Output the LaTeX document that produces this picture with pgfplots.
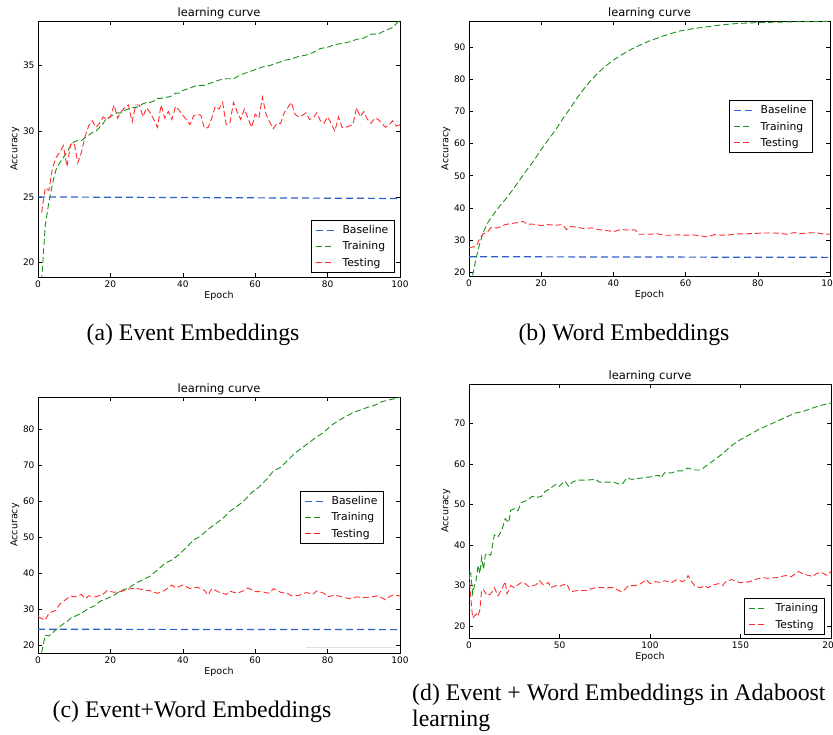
\documentclass[border=0pt]{standalone}
\usepackage{fontspec}
\setmainfont{DejaVu Sans}
\newfontfamily\capfont{Liberation Serif}
\usepackage{pgfplots}
\pgfplotsset{compat=1.18}
\definecolor{cb}{RGB}{45,95,200}
\definecolor{cg}{RGB}{25,145,25}
\definecolor{cr}{RGB}{255,45,45}
\pgfplotsset{
  lc/.style={
    scale only axis,
    anchor=south west,
    axis line style={line width=0.8pt},
    tick align=inside,
    major tick length=4pt,
    tick style={line width=0.6pt, black},
    xmin=0, xmax=100,
    xtick={0,20,...,100},
    title={learning curve},
    title style={font=\fontsize{11.5}{12}\selectfont, at={(axis description cs:0.5,1)}, anchor=base, yshift=-2pt, inner sep=0pt},
    xlabel=Epoch, ylabel=Accuracy,
    xlabel style={font=\fontsize{9.5}{10}\selectfont, at={(axis description cs:0.5,-0.074)}, anchor=center},
    ylabel style={font=\fontsize{9.5}{10}\selectfont, at={(axis description cs:-0.064,0.5)}, anchor=center},
    tick label style={font=\fontsize{9}{10}\selectfont},
    /pgf/number format/assume math mode=true,
    legend style={draw=black, line width=1.2pt, fill=white, font=\fontsize{10.8}{12}\selectfont, inner xsep=4pt, inner ysep=3pt, row sep=2.5pt, anchor=north east, legend cell align=left,
      /tikz/every odd column/.style={column sep=6pt}},
    legend image code/.code={\draw[#1] (3pt,0pt) -- (21pt,0pt);},
  },
  bl/.style={color=cb, line width=1.2pt, dash pattern=on 7pt off 4pt},
  tr/.style={color=cg, line width=0.9pt, dash pattern=on 6pt off 3pt},
  te/.style={color=cr, line width=0.9pt, dash pattern=on 6pt off 3pt},
}
\begin{document}
\begin{tikzpicture}[x=1pt,y=1pt]
\useasboundingbox (0,0) rectangle (833,735);
% (a)
\begin{axis}[lc, at={(38pt,458pt)}, width=362pt, height=256pt, ymin=18.9, ymax=38.4, ytick={20,25,30,35},
  legend style={at={(axis description cs:0.986,0.223)}}]
\addplot[bl] coordinates {(0,25.0)(100,24.88)};
\addplot[tr] coordinates {(1,18.6)(2,22.8)(3,24.6)(4,26.0)(5,27.1)(6,27.6)(7,28.0)(8,28.4)(9,28.9)(10,29.2)(11,29.3)(12,29.3)(13,29.5)(14,29.7)(15,29.9)(16,30.0)(17,30.3)(18,30.6)(19,31.0)(20,31.1)(21,31.3)(22,31.4)(23,31.4)(24,31.6)(25,31.7)(26,31.8)(27,31.8)(28,31.9)(29,32.1)(30,32.2)(31,32.2)(32,32.3)(33,32.5)(34,32.5)(35,32.6)(36,32.6)(37,32.7)(38,32.9)(39,32.9)(40,33.1)(42,33.3)(44,33.5)(46,33.5)(48,33.7)(50,33.9)(52,34.0)(54,34.0)(56,34.3)(58,34.5)(60,34.7)(62,34.9)(64,35.0)(66,35.2)(68,35.4)(70,35.5)(72,35.7)(74,35.8)(76,36.0)(78,36.3)(80,36.4)(82,36.6)(84,36.7)(86,36.8)(88,37.0)(90,37.1)(92,37.4)(94,37.4)(96,37.7)(98,37.9)(100,38.5)};
\addplot[te] coordinates {(1,23.8)(2,25.7)(3,25.5)(4,27.2)(5,28.0)(6,28.4)(7,28.9)(8,27.3)(9,29.0)(10,29.1)(11,27.6)(12,28.4)(13,29.6)(14,30.4)(15,30.8)(16,30.3)(17,30.6)(18,31.1)(19,30.9)(20,31.1)(21,32.0)(22,31.0)(23,31.5)(24,31.8)(25,32.0)(26,30.7)(27,32.0)(28,32.0)(29,31.1)(30,31.8)(31,31.4)(32,30.9)(33,30.3)(34,32.0)(35,31.0)(36,31.5)(37,30.9)(38,31.9)(39,31.6)(40,31.2)(41,30.9)(42,30.5)(43,31.2)(44,31.3)(45,31.2)(46,30.2)(47,30.3)(48,31.0)(49,31.9)(50,31.7)(51,32.2)(52,30.5)(53,30.6)(54,32.2)(55,31.5)(56,30.9)(57,31.7)(58,31.0)(59,30.3)(60,31.3)(61,31.0)(62,32.6)(63,31.3)(64,30.7)(65,30.2)(66,30.6)(67,30.6)(68,31.4)(69,31.8)(70,32.2)(71,31.3)(72,31.1)(73,31.2)(74,31.4)(75,30.9)(76,31.0)(77,31.4)(78,30.8)(79,30.6)(80,31.1)(81,30.6)(82,30.0)(83,31.1)(84,30.3)(85,30.3)(86,30.4)(87,30.5)(88,31.8)(89,31.1)(90,31.5)(91,30.9)(92,30.6)(93,31.0)(94,30.9)(95,30.6)(96,30.3)(97,30.5)(98,30.8)(99,30.4)(100,30.5)};
\legend{Baseline,Training,Testing}
\end{axis}
% (b)
\begin{axis}[lc, at={(469pt,459pt)}, width=361pt, height=255pt, ymin=18.8, ymax=98.2, ytick={20,30,...,90},
  legend style={at={(axis description cs:0.953,0.69)}}]
\addplot[bl] coordinates {(0,24.8)(100,24.6)};
\addplot[tr] coordinates {(1,19.0)(2,24.5)(3,29.0)(4,32.5)(5,35.0)(6,36.8)(7,38.3)(8,39.8)(9,41.3)(10,42.5)(12,45.5)(14,48.6)(16,51.8)(18,54.8)(20,58.2)(22,61.3)(24,64.3)(26,67.8)(28,71.0)(30,74.3)(32,77.3)(34,80.0)(36,82.3)(38,84.3)(40,86.0)(42,87.5)(44,88.8)(46,90.0)(48,91.0)(50,92.0)(52,92.8)(54,93.6)(56,94.3)(58,95.0)(60,95.4)(62,95.8)(64,96.1)(66,96.4)(68,96.7)(70,97.0)(72,97.2)(74,97.4)(76,97.5)(78,97.6)(80,97.7)(84,97.8)(88,97.9)(92,98.0)(96,98.0)(100,98.1)};
\addplot[te] coordinates {(0,27.6)(2,28.0)(3,30.5)(4,32.0)(5,32.3)(6,33.8)(8,33.8)(10,34.8)(12,35.2)(14,35.5)(15,35.8)(16,35.0)(18,34.9)(20,34.5)(22,34.8)(24,34.6)(26,34.8)(27,33.2)(28,34.2)(30,34.0)(32,33.5)(34,33.8)(36,33.2)(38,33.0)(40,32.6)(42,33.3)(44,33.1)(46,33.2)(47,31.8)(50,31.8)(52,32.0)(54,31.5)(56,31.5)(58,31.6)(60,31.5)(62,31.6)(64,31.3)(66,31.0)(68,31.7)(70,31.5)(72,31.6)(74,31.9)(76,31.9)(78,32.0)(80,32.1)(82,32.2)(84,32.2)(86,32.1)(88,31.8)(90,32.3)(92,32.0)(94,32.2)(96,32.3)(98,31.9)(100,31.8)};
\legend{Baseline,Training,Testing}
\end{axis}
% (c)
\begin{axis}[lc, at={(38pt,82pt)}, width=362pt, height=256pt, ymin=17.9, ymax=89.1, ytick={20,30,...,80},
  legend style={at={(axis description cs:0.956,0.633)}}]
\addlegendimage{bl}
\addlegendimage{tr}
\addlegendimage{te}
\addplot[gray!25, line width=1pt, forget plot] coordinates {(74,19.5)(98.5,19.5)};
\addplot[bl, forget plot] coordinates {(0,24.5)(100,24.4)};
\addplot[tr, forget plot] coordinates {(1,18.0)(2,22.9)(3,22.6)(4,23.5)(5,24.4)(6,25.2)(7,26.0)(8,26.6)(9,27.6)(10,28.0)(12,29.0)(14,30.3)(16,31.2)(17,32.2)(19,33.0)(21,34.0)(23,35.3)(25,35.9)(27,37.3)(29,38.3)(31,39.3)(33,41.0)(35,42.8)(37,43.8)(39,45.3)(41,47.3)(43,49.3)(45,50.5)(47,52.3)(49,53.8)(51,55.3)(53,57.3)(55,58.7)(57,60.3)(59,62.5)(61,64.0)(63,66.0)(65,68.5)(67,69.5)(69,71.5)(71,73.5)(73,75.0)(75,76.5)(77,78.0)(79,79.3)(81,81.2)(83,82.5)(85,83.7)(87,84.7)(89,85.5)(91,86.2)(93,86.8)(95,87.8)(97,88.3)(99,88.7)(100,89.0)};
\addplot[te, forget plot] coordinates {(0,28.0)(2,27.0)(3,29.0)(5,29.8)(6,31.5)(8,33.0)(9,33.8)(10,33.5)(12,34.2)(13,33.0)(14,33.8)(16,33.5)(18,34.3)(19,35.2)(21,34.8)(23,35.0)(25,35.7)(27,35.9)(29,35.5)(31,35.2)(33,34.5)(35,35.3)(37,36.8)(38,36.0)(40,36.8)(42,35.8)(44,36.2)(46,35.3)(47,34.0)(48,35.8)(50,34.8)(52,34.2)(53,35.1)(55,34.5)(57,35.3)(58,36.0)(60,35.0)(62,34.9)(64,34.5)(65,35.8)(67,34.8)(69,34.4)(70,33.8)(72,33.9)(74,34.7)(76,34.3)(77,35.2)(79,34.5)(80,33.5)(82,34.0)(84,33.5)(86,33.0)(88,33.5)(90,33.3)(92,33.5)(94,33.8)(96,32.7)(97,33.5)(98,34.0)(100,33.8)};
\legend{Baseline,Training,Testing}
\end{axis}
% (d)
\begin{axis}[lc, at={(469pt,97pt)}, width=362pt, height=254pt, xmax=200, xtick={0,50,...,200}, ymin=17.1, ymax=79.7, ytick={20,30,...,70},
  legend style={at={(axis description cs:0.983,0.157)}}]
\addplot[tr] coordinates {(0,33.5)(1,33.0)(2,28.0)(3,30.0)(4,31.5)(5,35.0)(6,33.0)(7,37.0)(8,34.0)(9,37.5)(10,38.0)(12,37.5)(13,40.0)(14,42.5)(16,42.0)(18,43.5)(20,46.5)(22,45.5)(23,48.5)(25,49.0)(27,48.5)(29,50.5)(32,51.0)(35,52.0)(38,51.8)(40,52.0)(42,53.2)(45,54.0)(48,55.0)(50,54.5)(53,55.8)(55,54.5)(57,55.5)(60,56.0)(65,56.0)(70,56.2)(72,55.5)(75,55.5)(80,55.5)(83,55.0)(85,55.2)(87,56.5)(90,56.2)(95,56.5)(100,56.8)(105,57.2)(106,56.5)(108,57.8)(112,57.8)(115,58.3)(118,58.3)(121,59.0)(124,58.5)(128,58.5)(130,59.2)(135,60.8)(140,62.5)(145,64.5)(150,66.0)(155,67.2)(160,68.5)(165,69.5)(170,70.5)(175,71.5)(180,72.5)(185,73.0)(190,73.8)(195,74.5)(200,75.0)};
\addplot[te] coordinates {(0,33.0)(1,27.0)(2,22.0)(3,22.5)(4,23.0)(5,22.5)(6,24.0)(7,29.0)(8,29.0)(10,27.5)(12,28.0)(14,29.5)(16,27.5)(18,29.0)(20,31.0)(21,28.0)(23,30.0)(25,29.5)(27,30.2)(29,30.8)(31,30.5)(33,29.8)(35,30.0)(37,30.2)(39,31.2)(41,30.2)(43,30.5)(44,30.8)(45,29.5)(48,30.0)(50,29.8)(52,30.2)(54,30.5)(56,28.5)(60,28.8)(65,28.8)(68,29.3)(70,29.5)(75,29.5)(80,29.5)(84,28.5)(86,29.0)(88,30.0)(92,30.0)(95,30.5)(98,31.5)(100,30.5)(103,31.0)(105,30.8)(108,31.2)(112,30.8)(115,31.5)(118,31.0)(120,31.5)(121,32.5)(123,31.0)(125,29.8)(128,29.5)(130,30.0)(132,29.5)(135,30.2)(138,30.5)(140,30.0)(142,31.0)(145,31.5)(148,31.0)(150,30.7)(155,31.0)(158,31.5)(162,32.0)(165,31.8)(170,32.0)(175,32.5)(178,32.2)(182,33.5)(185,32.8)(188,32.5)(190,32.2)(192,33.0)(195,33.2)(198,32.5)(200,33.5)};
\legend{Training,Testing}
\end{axis}
\begin{scope}[every node/.style={font=\capfont\fontsize{23.8}{26}\selectfont, inner sep=0pt}]
\node[anchor=base] at (193,394) {(a) Event Embeddings};
\node[anchor=base] at (624,394) {(b) Word Embeddings};
\node[anchor=base] at (192,17) {(c) Event+Word Embeddings};
\node[anchor=base west] at (412,34) {(d) Event + Word Embeddings in Adaboost};
\node[anchor=base west] at (412,8) {learning};
\end{scope}
\end{tikzpicture}
\end{document}
